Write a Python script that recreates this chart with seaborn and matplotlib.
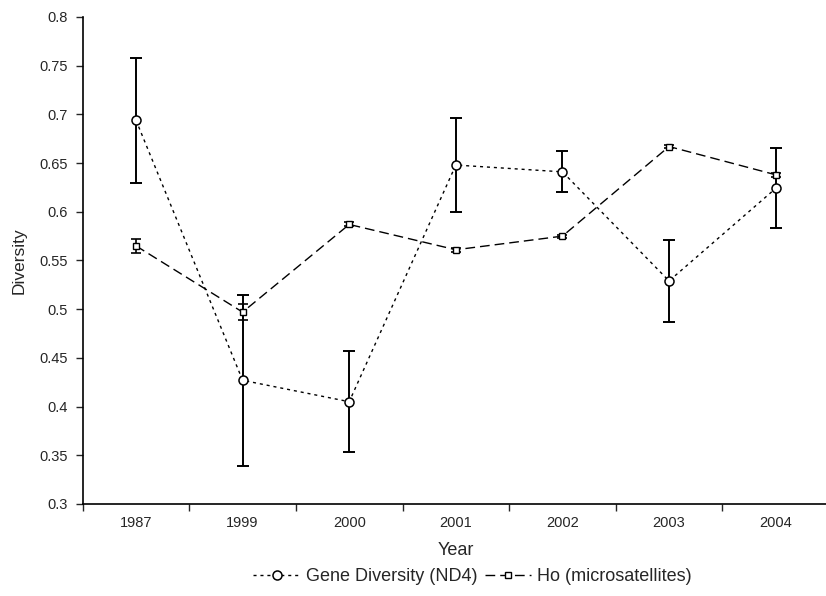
import matplotlib
matplotlib.use("Agg")
import matplotlib.pyplot as plt
from matplotlib.lines import Line2D
import numpy as np
import pandas as pd
import seaborn as sns

# Data
years = ["1987", "1999", "2000", "2001", "2002", "2003", "2004"]
gene_div = [0.694, 0.427, 0.405, 0.648, 0.641, 0.529, 0.624]
gene_err = [0.064, 0.088, 0.052, 0.048, 0.021, 0.042, 0.041]
ho = [0.565, 0.497, 0.587, 0.561, 0.575, 0.667, 0.638]
ho_err = [0.007, 0.008, 0.002, 0.002, 0.0015, 0.002, 0.002]

series_names = ["Gene Diversity (ND4)", "Ho (microsatellites)"]

sns.set_style("ticks")
plt.rcParams["font.family"] = ["Liberation Sans", "DejaVu Sans"]

pos = np.arange(len(years))
df = pd.DataFrame({
    "pos": np.concatenate([pos, pos]),
    "value": gene_div + ho,
    "series": [series_names[0]] * len(years) + [series_names[1]] * len(years),
})

fig = plt.figure(figsize=(8.26, 5.96), dpi=100)
ax = fig.add_axes([0.1001, 0.1544, 0.9035, 0.8171])

dot_style = (2.2, 2.8)
dash_style = (7.0, 3.6)

sns.lineplot(
    data=df, x="pos", y="value", style="series",
    dashes={series_names[0]: dot_style, series_names[1]: dash_style},
    markers=False, color="black", linewidth=1.0, legend=False, ax=ax,
    zorder=2,
)

# error bars
ax.errorbar(pos, gene_div, yerr=gene_err, fmt="none", ecolor="black",
            elinewidth=1.4, capsize=4.5, capthick=1.4, zorder=3)
ax.errorbar(pos, ho, yerr=ho_err, fmt="none", ecolor="black",
            elinewidth=1.2, capsize=3.5, capthick=1.2, zorder=3)

# markers
ax.plot(pos, gene_div, linestyle="none", marker="o", markersize=6.5,
        markerfacecolor="white", markeredgecolor="black",
        markeredgewidth=1.1, zorder=4)
ax.plot(pos, ho, linestyle="none", marker="s", markersize=4.2,
        markerfacecolor="white", markeredgecolor="black",
        markeredgewidth=1.0, zorder=4)

ax.set_xlim(-0.5, len(years) - 0.5)
ax.set_ylim(0.3, 0.8)
ax.set_yticks(np.arange(0.3, 0.801, 0.05))
ax.set_yticklabels([f"{v:g}" for v in np.round(np.arange(0.3, 0.801, 0.05), 2)])

# category labels at centres, tick marks at boundaries
ax.set_xticks(pos)
ax.set_xticklabels(years)
ax.set_xticks(np.arange(-0.5, len(years), 1.0), minor=True)
ax.tick_params(axis="x", which="major", length=0, pad=9, labelsize=10.5)
ax.tick_params(axis="x", which="minor", length=5, width=1.0, direction="out")
ax.tick_params(axis="y", length=5, width=1.0, direction="out", pad=6,
               labelsize=10.5)

for side in ["top", "right"]:
    ax.spines[side].set_visible(False)
for side in ["left", "bottom"]:
    ax.spines[side].set_linewidth(1.2)
    ax.spines[side].set_color("black")

ax.set_xlabel("Year", fontsize=13, labelpad=8)
ax.set_ylabel("Diversity", fontsize=12.5, labelpad=9)
ax.grid(False)

handles = [
    Line2D([], [], color="black", linewidth=1.0, dashes=dot_style,
           marker="o", markersize=6.5, markerfacecolor="white",
           markeredgecolor="black", markeredgewidth=1.1),
    Line2D([], [], color="black", linewidth=1.0, dashes=dash_style,
           marker="s", markersize=4.2, markerfacecolor="white",
           markeredgecolor="black", markeredgewidth=1.0),
]
fig.legend(handles, series_names, loc="center", bbox_to_anchor=(0.572, 0.032),
           ncol=2, frameon=False, fontsize=13, handlelength=2.6,
           handletextpad=0.3, columnspacing=0.4)

fig.savefig("out.png", dpi=100)
